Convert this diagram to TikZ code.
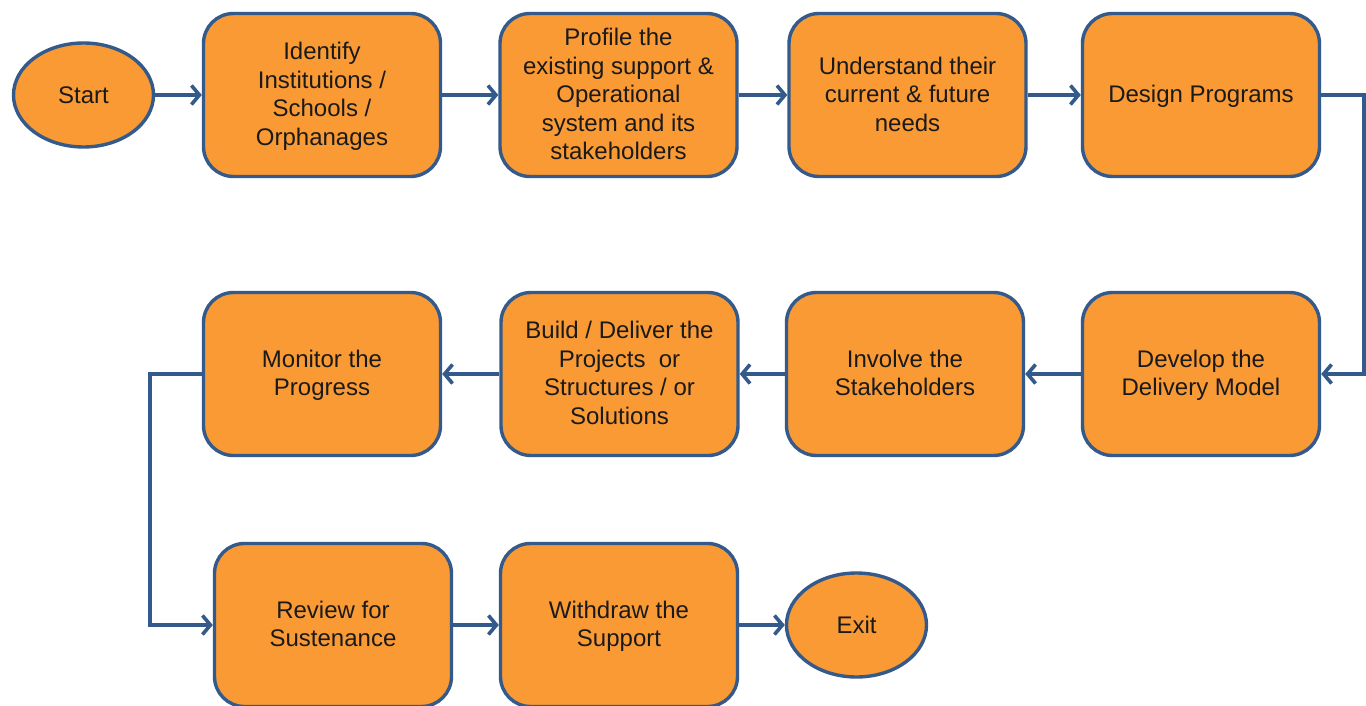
\documentclass[tikz,border=0pt]{standalone}
\usepackage{fontspec}
\setmainfont{Liberation Sans}
\usetikzlibrary{shapes.geometric,arrows.meta}
\definecolor{boxfill}{HTML}{F99A35}
\definecolor{edgeblue}{HTML}{335A8A}
\definecolor{txt}{HTML}{1A1A1A}
\begin{document}
\begin{tikzpicture}[x=1pt,y=-1pt,
  stepbox/.style={draw=edgeblue, line width=3.4pt, fill=boxfill, rounded corners=30pt,
    minimum width=237pt, minimum height=163pt, align=center, text=txt,
    font=\fontsize{24}{28.6}\selectfont, inner sep=2pt, text depth=2pt},
  term/.style={ellipse, draw=edgeblue, line width=3.4pt, fill=boxfill, text=txt,
    minimum width=140pt, minimum height=104pt, inner sep=0pt,
    font=\fontsize{24}{28.6}\selectfont},
  conn/.style={draw=edgeblue, line width=3.6pt, -{Straight Barb[length=8pt,width=19pt]}}]
\useasboundingbox (0,0) rectangle (1366,706);
\fill[white] (0,0) rectangle (1366,706);

\node[term] (start) at (83.5,95) {Start};
\node[stepbox] (n1) at (322,95) {Identify\\Institutions /\\Schools /\\Orphanages};
\node[stepbox] (n2) at (618.5,95) {Profile the\\existing support \&\\Operational\\system and its\\stakeholders};
\node[stepbox] (n3) at (907.5,95) {Understand their\\current \& future\\needs};
\node[stepbox] (n4) at (1201,95) {Design Programs};

\node[stepbox] (n5) at (1201,374) {Develop the\\Delivery Model};
\node[stepbox] (n6) at (905,374) {Involve the\\Stakeholders};
\node[stepbox] (n7) at (619.5,374) {Build / Deliver the\\Projects\ \ or\\Structures / or\\Solutions};
\node[stepbox] (n8) at (322,374) {Monitor the\\Progress};

\node[stepbox] (n9) at (333,625) {Review for\\Sustenance};
\node[stepbox] (n10) at (619,625) {Withdraw the\\Support};
\node[term] (exit) at (856.5,625) {Exit};

\coordinate (rt) at (1364,95);
\coordinate (lt) at (150,374);

\draw[conn] (start) -- (n1);
\draw[conn] (n1) -- (n2);
\draw[conn] (n2) -- (n3);
\draw[conn] (n3) -- (n4);
\draw[conn] (n4.east) -- (rt) |- (n5.east);
\draw[conn] (n5) -- (n6);
\draw[conn] (n6) -- (n7);
\draw[conn] (n7) -- (n8);
\draw[conn] (n8.west) -- (lt) |- (n9.west);
\draw[conn] (n9) -- (n10);
\draw[conn] (n10) -- (exit);
\end{tikzpicture}
\end{document}
